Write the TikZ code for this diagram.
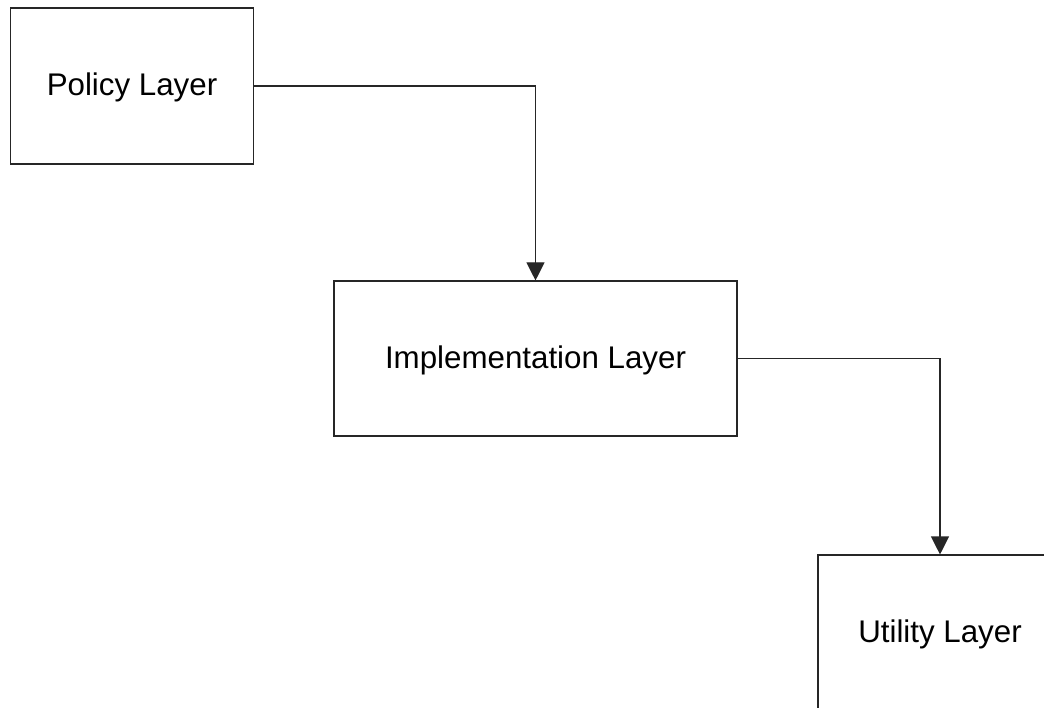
\documentclass[tikz,border=0pt]{standalone}
\usepackage{fontspec}
\setmainfont{Liberation Sans}
\usetikzlibrary{arrows.meta}
\begin{document}
\begin{tikzpicture}[x=1pt,y=-1pt,
  layer/.style={draw=black!85,line width=1.1pt,fill=white,inner sep=0pt,
    text height=22pt,text depth=2pt,
    font=\fontsize{31.3}{36}\selectfont},
  link/.style={draw=black!85,line width=1.1pt,
    -{Triangle[length=18pt,width=18pt]}}]
  \clip (0,0) rectangle (1044,708);
  \fill[white] (0,0) rectangle (1044,708);
  \node[layer,minimum width=243pt,minimum height=156pt] (policy) at (132,86) {Policy Layer};
  \node[layer,minimum width=403pt,minimum height=155pt] (impl) at (535.5,358.5) {Implementation Layer};
  \node[layer,minimum width=244pt,minimum height=155pt] (util) at (940,632.5) {Utility Layer};
  \draw[link] (policy.east) -| (impl.north);
  \draw[link] (impl.east) -| (util.north);
\end{tikzpicture}
\end{document}
